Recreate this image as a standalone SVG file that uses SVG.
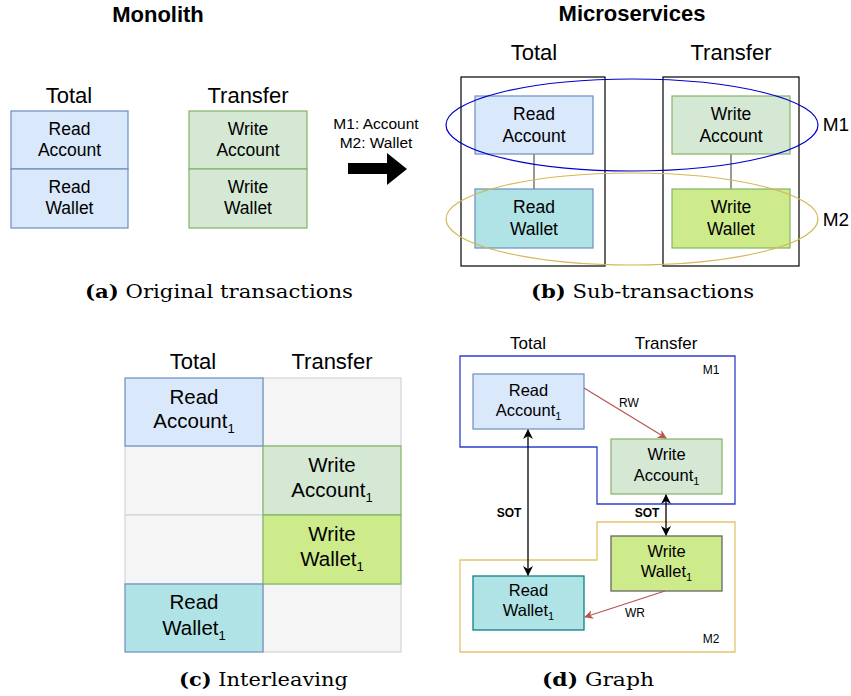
<svg xmlns="http://www.w3.org/2000/svg" width="851" height="696" viewBox="0 0 851 696">
<defs>
<style>
text{font-family:"Liberation Sans",Arial,sans-serif;fill:#000;text-anchor:middle}
.title{font-weight:bold;font-size:22px}
.hdr{font-size:22px}
.n17{font-size:17.5px}
.n20{font-size:20.5px}
.n16{font-size:16.5px}
.sm{font-size:12px}
.smb{font-size:12px;font-weight:bold}
.cap{font-family:"DejaVu Serif","Liberation Serif",serif;font-size:19px;text-anchor:start}
.capb{font-weight:bold}
.sub{font-size:13px}
.blue{fill:#dae8fc;stroke:#6c8ebf;stroke-width:1.2}
.green{fill:#d5e8d4;stroke:#82b366;stroke-width:1.2}
.cyan{fill:#b0e3e6;stroke:#6c8ebf;stroke-width:1.2}
.lime{fill:#cdeb8b;stroke:#82b366;stroke-width:1.2}
.grey{fill:#f5f5f5;stroke:#d4d4d4;stroke-width:1.2}
.frame{fill:none;stroke:#000;stroke-width:1.2}
.link{stroke:#555;stroke-width:1.2;fill:none}
.red{stroke:#b85450;stroke-width:1.2;fill:none}
.blk{stroke:#000;stroke-width:1.3;fill:none}
</style>
<marker id="ar" viewBox="0 0 10 10" refX="9" refY="5" markerWidth="9" markerHeight="9" markerUnits="userSpaceOnUse" orient="auto"><path d="M0,0 L10,5 L0,10 L3,5 Z" fill="#b85450"/></marker>
<marker id="ab" viewBox="0 0 10 10" refX="9" refY="5" markerWidth="10" markerHeight="10" markerUnits="userSpaceOnUse" orient="auto-start-reverse"><path d="M0,0 L10,5 L0,10 L3,5 Z" fill="#000"/></marker>
</defs>

<!-- Panel (a) -->
<g id="panel-a">
<text class="title" x="158" y="22">Monolith</text>
<text class="hdr" x="69" y="103">Total</text>
<text class="hdr" x="248" y="103">Transfer</text>
<g id="a-read-account"><rect class="blue" x="11" y="111" width="117" height="58"/><text class="n17" x="69.5" y="135">Read</text><text class="n17" x="69.5" y="156">Account</text></g>
<g id="a-read-wallet"><rect class="blue" x="11" y="169" width="117" height="59"/><text class="n17" x="69.5" y="193">Read</text><text class="n17" x="69.5" y="214">Wallet</text></g>
<g id="a-write-account"><rect class="green" x="189" y="111" width="118" height="58"/><text class="n17" x="248" y="135">Write</text><text class="n17" x="248" y="156">Account</text></g>
<g id="a-write-wallet"><rect class="green" x="189" y="169" width="118" height="59"/><text class="n17" x="248" y="193">Write</text><text class="n17" x="248" y="214">Wallet</text></g>
<text x="376" y="129" style="font-size:15.5px">M1: Account</text>
<text x="376" y="148" style="font-size:15.5px">M2: Wallet</text>
<polygon points="348,163 387,163 387,153 407,169 387,185 387,174 348,174" fill="#000"/>
<text class="cap" x="85" y="298" textLength="268" lengthAdjust="spacingAndGlyphs"><tspan class="capb">(a)</tspan> Original transactions</text>
</g>

<!-- Panel (b) -->
<g id="panel-b">
<text class="title" x="632" y="21">Microservices</text>
<text class="hdr" x="534" y="60">Total</text>
<text class="hdr" x="731" y="60">Transfer</text>
<rect class="frame" x="461" y="77" width="144" height="189"/>
<rect class="frame" x="663" y="77" width="136" height="189"/>
<g id="b-links">
<line class="link" x1="534" y1="154" x2="534" y2="189"/>
<line class="link" x1="731" y1="154" x2="731" y2="189"/>
</g>
<g id="b-read-account"><rect class="blue" x="475" y="96" width="118" height="58"/><text class="n17" x="534" y="120">Read</text><text class="n17" x="534" y="142">Account</text></g>
<g id="b-read-wallet"><rect class="cyan" x="475" y="189" width="118" height="59"/><text class="n17" x="534" y="213">Read</text><text class="n17" x="534" y="235">Wallet</text></g>
<g id="b-write-account"><rect class="green" x="672" y="96" width="118" height="58"/><text class="n17" x="731" y="120">Write</text><text class="n17" x="731" y="142">Account</text></g>
<g id="b-write-wallet"><rect class="lime" x="672" y="189" width="118" height="59"/><text class="n17" x="731" y="213">Write</text><text class="n17" x="731" y="235">Wallet</text></g>
<ellipse cx="632" cy="125" rx="186" ry="46" fill="none" stroke="#0000cc" stroke-width="1.2"/>
<ellipse cx="632" cy="219" rx="186" ry="46" fill="none" stroke="#d6b656" stroke-width="1.2"/>
<text x="836" y="131" style="font-size:19px">M1</text>
<text x="836" y="226" style="font-size:19px">M2</text>
<text class="cap" x="531" y="298" textLength="223" lengthAdjust="spacingAndGlyphs"><tspan class="capb">(b)</tspan> Sub-transactions</text>
</g>

<!-- Panel (c) -->
<g id="panel-c">
<text class="hdr" x="193" y="369">Total</text>
<text class="hdr" x="332" y="369">Transfer</text>
<rect class="grey" x="263" y="378" width="138" height="68"/>
<rect class="grey" x="125" y="446" width="138" height="69"/>
<rect class="grey" x="125" y="515" width="138" height="69"/>
<rect class="grey" x="263" y="584" width="138" height="68"/>
<g id="c-read-account"><rect class="blue" x="125" y="378" width="138" height="68"/><text class="n20" x="194" y="404">Read</text><text class="n20" x="194" y="428">Account<tspan class="sub" dy="5">1</tspan></text></g>
<g id="c-write-account"><rect class="green" x="263" y="446" width="138" height="69"/><text class="n20" x="332" y="472">Write</text><text class="n20" x="332" y="497">Account<tspan class="sub" dy="5">1</tspan></text></g>
<g id="c-write-wallet"><rect class="lime" x="263" y="515" width="138" height="69"/><text class="n20" x="332" y="541">Write</text><text class="n20" x="332" y="566">Wallet<tspan class="sub" dy="5">1</tspan></text></g>
<g id="c-read-wallet"><rect class="cyan" x="125" y="584" width="138" height="68"/><text class="n20" x="194" y="609">Read</text><text class="n20" x="194" y="635">Wallet<tspan class="sub" dy="5">1</tspan></text></g>
<text class="cap" x="179" y="686" textLength="169" lengthAdjust="spacingAndGlyphs"><tspan class="capb">(c)</tspan> Interleaving</text>
</g>

<!-- Panel (d) -->
<g id="panel-d">
<text x="528" y="349" style="font-size:17px">Total</text>
<text x="666" y="349" style="font-size:17px">Transfer</text>
<polygon points="460,356 735,356 735,504 597,504 597,447 460,447" fill="none" stroke="#2d3fcc" stroke-width="1.3"/>
<polygon points="597,522 735,522 735,652 460,652 460,560 597,560" fill="none" stroke="#e6c36b" stroke-width="1.3"/>
<text class="sm" x="711" y="374">M1</text>
<text class="sm" x="711" y="643">M2</text>
<g id="d-read-account"><rect class="blue" x="473" y="374" width="111" height="55"/><text class="n16" x="528.5" y="396">Read</text><text class="n16" x="528.5" y="416">Account<tspan class="sub" style="font-size:11px" dy="4">1</tspan></text></g>
<g id="d-write-account"><rect class="green" x="611" y="439" width="111" height="55"/><text class="n16" x="666.5" y="460">Write</text><text class="n16" x="666.5" y="481">Account<tspan class="sub" style="font-size:11px" dy="4">1</tspan></text></g>
<g id="d-write-wallet"><rect x="611" y="536" width="111" height="55" fill="#cdeb8b" stroke="#666666" stroke-width="1.3"/><text class="n16" x="666.5" y="557">Write</text><text class="n16" x="666.5" y="577">Wallet<tspan class="sub" style="font-size:11px" dy="4">1</tspan></text></g>
<g id="d-read-wallet"><rect x="473" y="576" width="111" height="54" fill="#b0e3e6" stroke="#0e8088" stroke-width="1.3"/><text class="n16" x="528.5" y="596">Read</text><text class="n16" x="528.5" y="616">Wallet<tspan class="sub" style="font-size:11px" dy="4">1</tspan></text></g>
<g id="d-connectors">
<line class="red" x1="584" y1="388" x2="666" y2="438" marker-end="url(#ar)"/>
<line class="red" x1="665" y1="591" x2="585" y2="617" marker-end="url(#ar)"/>
<line class="blk" x1="528" y1="430" x2="528" y2="575" marker-start="url(#ab)" marker-end="url(#ab)"/>
<line class="blk" x1="666" y1="495" x2="666" y2="535" marker-start="url(#ab)" marker-end="url(#ab)"/>
</g>
<text class="sm" x="629" y="407">RW</text>
<text class="sm" x="635" y="617">WR</text>
<text class="smb" x="509" y="517">SOT</text>
<text class="smb" x="647" y="517">SOT</text>
<text class="cap" x="542" y="686" textLength="112" lengthAdjust="spacingAndGlyphs"><tspan class="capb">(d)</tspan> Graph</text>
</g>
</svg>
